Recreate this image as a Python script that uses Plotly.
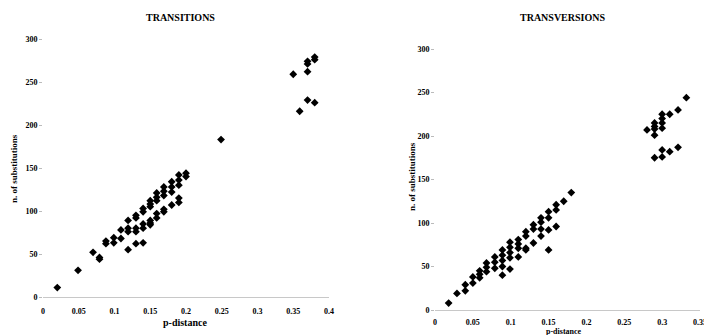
import plotly.graph_objects as go

# TRANSITIONS data
ts_p = [0.020, 0.049, 0.070, 0.079, 0.079, 0.088, 0.088, 0.099, 0.099, 0.109, 0.109,
        0.119, 0.119, 0.119, 0.119, 0.130, 0.130, 0.130, 0.130, 0.130,
        0.140, 0.140, 0.140, 0.140, 0.140, 0.150, 0.150, 0.150, 0.150, 0.150, 0.150,
        0.159, 0.159, 0.159, 0.159, 0.159, 0.169, 0.169, 0.169, 0.169, 0.169,
        0.180, 0.180, 0.180, 0.180, 0.190, 0.190, 0.190, 0.190, 0.190, 0.200, 0.200,
        0.249, 0.350, 0.359, 0.370, 0.370, 0.370, 0.370, 0.380, 0.380, 0.380]
ts_n = [11, 31, 52, 44, 46, 62, 65, 63, 69, 78, 68,
        89, 80, 76, 55, 95, 92, 80, 76, 62,
        103, 99, 85, 80, 63, 112, 108, 105, 89, 86, 84,
        121, 116, 112, 97, 92, 128, 123, 118, 102, 99,
        134, 128, 122, 107, 142, 136, 130, 115, 110, 144, 140,
        183, 259, 216, 274, 271, 262, 229, 279, 276, 226]

# TRANSVERSIONS data
tv_p = [0.018, 0.029, 0.040, 0.040, 0.050, 0.050, 0.059, 0.059, 0.059,
        0.068, 0.068, 0.068, 0.079, 0.079, 0.079, 0.089, 0.089, 0.089, 0.089, 0.089,
        0.099, 0.099, 0.099, 0.099, 0.099, 0.110, 0.110, 0.110, 0.110,
        0.120, 0.120, 0.120, 0.120, 0.130, 0.130, 0.130, 0.140, 0.140, 0.140, 0.140,
        0.150, 0.150, 0.150, 0.150, 0.160, 0.160, 0.160, 0.170, 0.180,
        0.280, 0.290, 0.290, 0.290, 0.290, 0.290, 0.300, 0.300, 0.300, 0.300, 0.300, 0.300,
        0.310, 0.310, 0.321, 0.321, 0.332]
tv_n = [8, 19, 29, 22, 38, 31, 45, 41, 37,
        54, 49, 44, 61, 55, 48, 69, 63, 57, 50, 40,
        78, 72, 66, 60, 47, 81, 76, 71, 61,
        90, 85, 71, 69, 98, 93, 77, 106, 101, 93, 85,
        113, 106, 92, 69, 121, 115, 96, 125, 135,
        207, 215, 211, 208, 201, 175, 225, 220, 215, 209, 184, 176,
        225, 182, 230, 187, 244]

x_ticks_l = [0, 0.05, 0.1, 0.15, 0.2, 0.25, 0.3, 0.35, 0.4]
x_ticks_r = [0, 0.05, 0.1, 0.15, 0.2, 0.25, 0.3, 0.35]
y_ticks = [0, 50, 100, 150, 200, 250, 300]

SERIF = "Liberation Serif"
mk = dict(symbol="diamond", size=6, color="black")

# the page body has an 8px margin; work in page pixels and convert
OFF = 8
W, H = 712 - OFF, 335 - OFF

def fx(px):
    return (px - OFF) / W

def fy(py):
    return 1 - (py - OFF) / H

fig = go.Figure()
fig.add_trace(go.Scatter(x=ts_p, y=ts_n, mode="markers", marker=mk, xaxis="x", yaxis="y",
                         showlegend=False, cliponaxis=False))
fig.add_trace(go.Scatter(x=tv_p, y=tv_n, mode="markers", marker=mk, xaxis="x2", yaxis="y2",
                         showlegend=False, cliponaxis=False))

tickfont = dict(family=SERIF, size=8, color="black", weight="bold")

def xax(domain, rng, ticks, anchor, standoff):
    return dict(domain=domain, range=rng, anchor=anchor, tickvals=ticks,
                ticktext=[("%g" % t) for t in ticks], tickfont=tickfont,
                showgrid=False, zeroline=False, showline=True, linecolor="#c8c8c8",
                linewidth=1, ticks="", ticklabelstandoff=standoff, automargin=False)

def yax(domain, anchor):
    return dict(domain=domain, range=[0, 300], anchor=anchor, tickvals=y_ticks,
                tickfont=tickfont, showgrid=False, zeroline=False, showline=False,
                ticks="outside", ticklen=3, tickcolor="#bbbbbb", automargin=False)

def ann(text, x, y, angle=0, size=10):
    return dict(text=text, x=fx(x), y=fy(y), xref="paper", yref="paper",
                xanchor="center", yanchor="middle",
                showarrow=False, textangle=angle,
                font=dict(family=SERIF, size=size, color="black", weight="bold"))

fig.update_layout(
    width=W, height=H,
    margin=dict(l=0, r=0, t=0, b=0),
    paper_bgcolor="white", plot_bgcolor="white",
    xaxis=xax([fx(43), fx(329)], [0, 0.4], x_ticks_l, "y", 6),
    yaxis=yax([fy(297), fy(39)], "x"),
    xaxis2=xax([fx(435), fx(700)], [0, 0.35], x_ticks_r, "y2", 4),
    yaxis2=yax([fy(310), fy(49)], "x2"),
    annotations=[
        ann("TRANSITIONS", 180, 17, size=10),
        ann("TRANSVERSIONS", 562, 18, size=10),
        ann("p-distance", 185, 322),
        ann("p-distance", 564, 331, size=8),
        ann("n. of substitutions", 14, 169, angle=-90, size=9),
        ann("n. of substitutions", 412, 177, angle=-90, size=9),
    ],
)

fig.write_html("out.html")
